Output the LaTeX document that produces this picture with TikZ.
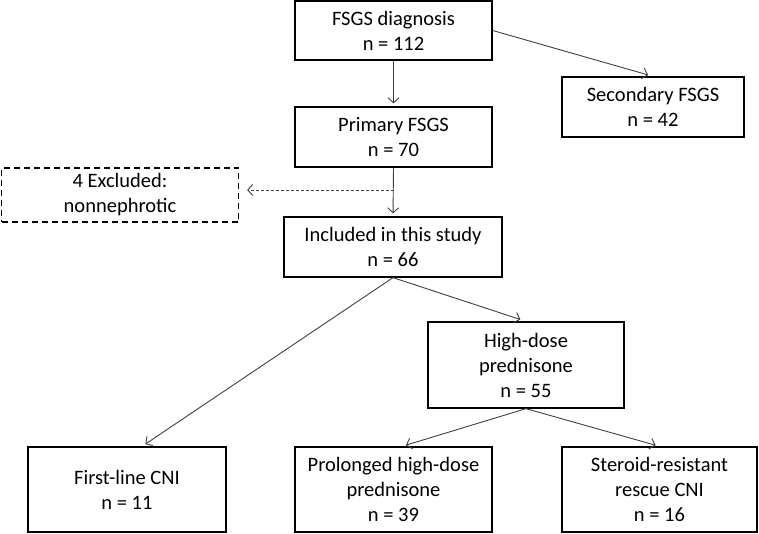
\documentclass[tikz,border=0pt]{standalone}
\usepackage{fontspec}
\setmainfont{Carlito}
\usetikzlibrary{arrows.meta}
\begin{document}
\begin{tikzpicture}[x=1pt,y=-1pt,
  box/.style={draw=black,line width=1.3pt,align=center,inner sep=0pt,
    font=\fontsize{20.5}{25}\selectfont},
  conn/.style={draw=black!75,line width=0.9pt,
    -{Straight Barb[length=5pt,width=11pt]}},
  dconn/.style={conn,dash pattern=on 3pt off 2pt},
]
\useasboundingbox (0,0) rectangle (759,534);
\node[box,minimum width=197pt,minimum height=59pt] (diag) at (393.5,30.5) {FSGS diagnosis\\n = 112};
\node[box,minimum width=182pt,minimum height=60pt] (sec) at (653,107) {Secondary FSGS\\n = 42};
\node[box,minimum width=197pt,minimum height=60pt] (prim) at (393.5,137) {Primary FSGS\\n = 70};
\node[box,dash pattern=on 6pt off 4pt,minimum width=237pt,minimum height=54pt] (excl) at (120,195) {4 Excluded:\\nonnephrotic};
\node[box,minimum width=218pt,minimum height=60pt] (incl) at (393,247) {Included in this study\\n = 66};
\node[box,minimum width=196pt,minimum height=86pt] (high) at (526,365) {High-dose\\prednisone\\n = 55};
\node[box,minimum width=198pt,minimum height=85pt] (first) at (127,489.5) {First-line CNI\\n = 11};
\node[box,minimum width=197pt,minimum height=85pt] (prol) at (393.5,489.5) {Prolonged high-dose\\prednisone\\n = 39};
\node[box,minimum width=195pt,minimum height=85pt] (ster) at (659.5,489.5) {Steroid-resistant\\rescue CNI\\n = 16};
\coordinate (m) at (393.5,190);
\draw[conn,shorten >=3pt] (diag.south) -- (prim.north);
\draw[conn,shorten >=5pt] (diag.east) -- (sec.north);
\draw[conn,shorten >=3pt] (prim.south) -- (incl.north);
\draw[dconn,shorten >=8pt] (m) -- (m -| excl.east);
\draw[conn,shorten >=6pt] (incl.south) -- (high.north);
\draw[conn,shorten >=4pt] (incl.south) -- ([xshift=15pt]first.north);
\draw[conn,shorten >=4pt] (high.south) -- ([xshift=8.5pt]prol.north);
\draw[conn,shorten >=4pt] (high.south) -- (ster.north);
\end{tikzpicture}
\end{document}
